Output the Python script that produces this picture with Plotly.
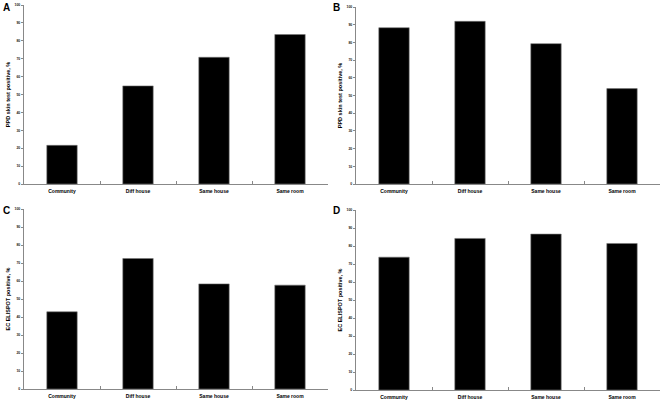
import plotly.graph_objects as go

categories = ["Community", "Diff house", "Same house", "Same room"]
panel_a = [21.6, 54.8, 70.8, 83.5]
panel_b = [88.3, 91.9, 79.3, 53.9]
panel_c = [42.9, 72.5, 58.4, 57.7]
panel_d = [73.8, 84.2, 86.6, 81.4]
panel_labels = ["A", "B", "C", "D"]
y_titles = ["PPD skin test positive, %", "PPD skin test positive, %",
            "EC ELISPOT positive, %", "EC ELISPOT positive, %"]
y_ticks = [0, 10, 20, 30, 40, 50, 60, 70, 80, 90, 100]

W, H = 661, 400
panels = [panel_a, panel_b, panel_c, panel_d]
# pixel boxes: (x0, x1, ytop, ybottom)
boxes = [(24, 328, 5, 184), (356, 660, 7, 184), (24, 328, 209, 389), (356, 660, 210, 390)]
letter_pos = [(2, 1), (332, 1), (2, 204), (332, 204)]

fig = go.Figure()
font_fam = "Liberation Sans, Arial, sans-serif"
for i, vals in enumerate(panels):
    xa = "x" if i == 0 else f"x{i+1}"
    ya = "y" if i == 0 else f"y{i+1}"
    fig.add_trace(go.Bar(x=categories, y=vals, xaxis=xa, yaxis=ya,
                         marker=dict(color="black", line=dict(color="#777777", width=0.6)),
                         width=0.4, showlegend=False))
    x0, x1, yt, yb = boxes[i]
    xk = "xaxis" if i == 0 else f"xaxis{i+1}"
    yk = "yaxis" if i == 0 else f"yaxis{i+1}"
    fig.layout[xk] = dict(domain=[x0 / W, x1 / W], anchor=ya, automargin=False,
                          showline=True, linecolor="#888888", linewidth=1,
                          ticks="inside", ticklen=3, tickcolor="#888888", tickson="boundaries",
                          ticklabelstandoff=2,
                          tickfont=dict(family=font_fam, size=5, color="black", weight="bold"),
                          showgrid=False, zeroline=False, fixedrange=True)
    fig.layout[yk] = dict(domain=[1 - yb / H, 1 - yt / H], anchor=xa, automargin=False,
                          range=[0, 100], tickvals=y_ticks,
                          showline=True, linecolor="#888888", linewidth=1,
                          ticks="outside", ticklen=2, tickcolor="#888888",
                          tickfont=dict(family=font_fam, size=3.5, color="#222222", weight="bold"),
                          title=dict(text=y_titles[i], standoff=3,
                                     font=dict(family=font_fam, size=5.5, color="black", weight="bold")),
                          showgrid=False, zeroline=False, fixedrange=True)
    lx, ly = letter_pos[i]
    fig.add_annotation(text=panel_labels[i], xref="paper", yref="paper",
                       x=lx / W, y=1 - ly / H, xanchor="left", yanchor="top", showarrow=False,
                       borderpad=0,
                       font=dict(family=font_fam, size=10, color="black", weight="bold"))

fig.update_layout(width=W, height=H, margin=dict(l=0, r=0, t=0, b=0, autoexpand=False),
                  plot_bgcolor="white", paper_bgcolor="white", bargap=0.6)
fig.write_html("out.html", config={"displayModeBar": False},
               post_script="document.body.style.margin='0';document.body.style.overflow='hidden';")
